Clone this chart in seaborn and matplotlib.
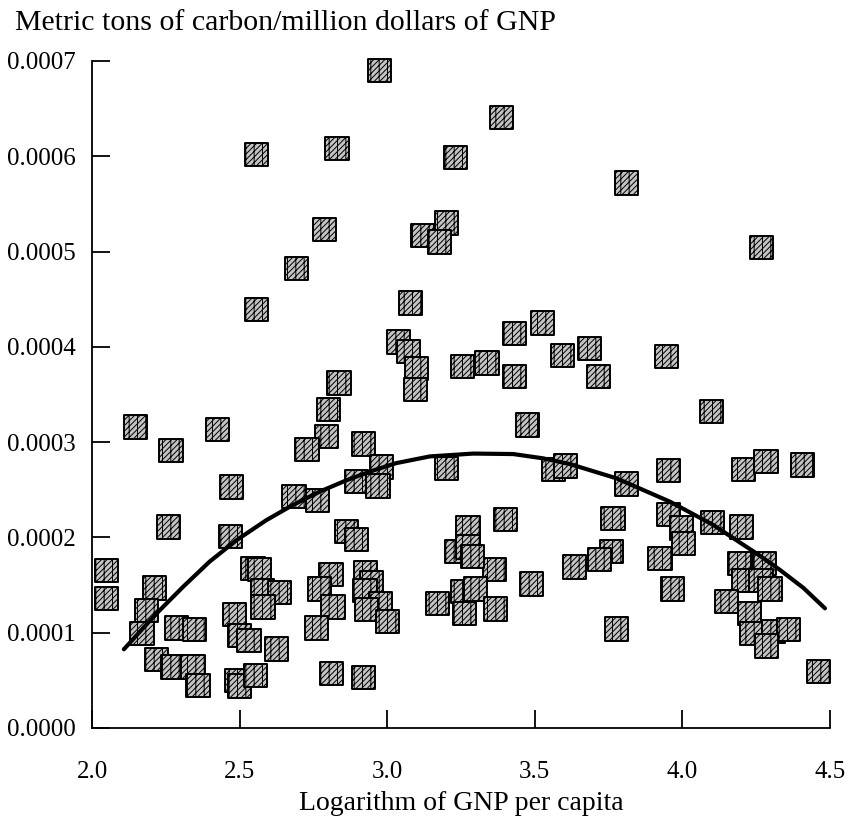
import matplotlib
matplotlib.use("Agg")
import matplotlib.pyplot as plt
import seaborn as sns
import pandas as pd

# ---- data ----
log_gnp_per_capita = [
    2.975, 2.557, 2.830, 3.231, 2.788, 3.200, 3.119, 3.178, 2.694, 2.557,
    3.079, 3.037, 3.071, 3.099, 3.097, 3.254, 3.338, 2.837, 3.387, 3.811,
    4.268, 3.432, 3.526, 3.432, 3.593, 3.686, 3.715, 3.946, 4.099, 3.474,
    3.564, 3.605, 3.811, 3.952, 4.206, 4.283, 4.407, 3.402, 3.765, 3.952,
    3.997, 4.003, 4.101, 4.201, 3.760, 3.720, 3.924, 3.635, 3.364, 3.489,
    3.967, 4.193, 4.277, 4.206, 4.266, 4.297, 4.150, 4.228, 4.235, 4.308,
    4.359, 4.285, 3.776, 4.460, 3.274, 3.235, 3.274, 3.290, 3.257, 3.299,
    3.263, 3.366, 3.170,
    2.147, 2.268, 2.426, 2.800, 2.794, 2.728, 2.921, 2.980, 2.896, 2.969,
    3.200, 2.472, 2.684, 2.765, 2.260, 2.469, 2.862, 2.895, 2.048, 2.048,
    2.212, 2.184, 2.169, 2.218, 2.285, 2.347, 2.272, 2.342, 2.359, 2.545,
    2.567, 2.577, 2.636, 2.579, 2.482, 2.500, 2.532, 2.626, 2.491, 2.500,
    2.553, 2.810, 2.770, 2.816, 2.760, 2.811, 2.927, 2.948, 2.925, 2.978,
    2.929, 3.000, 2.920,
]
carbon_per_gnp = [
    0.000690, 0.000602, 0.000608, 0.000599, 0.000523, 0.000530, 0.000517, 0.000510, 0.000482, 0.000439,
    0.000446, 0.000405, 0.000395, 0.000377, 0.000355, 0.000379, 0.000383, 0.000362, 0.000641, 0.000572,
    0.000504, 0.000414, 0.000425, 0.000369, 0.000391, 0.000398, 0.000369, 0.000390, 0.000332, 0.000318,
    0.000271, 0.000275, 0.000256, 0.000270, 0.000271, 0.000280, 0.000276, 0.000219, 0.000220, 0.000224,
    0.000210, 0.000194, 0.000216, 0.000211, 0.000185, 0.000177, 0.000178, 0.000169, 0.000166, 0.000151,
    0.000146, 0.000173, 0.000173, 0.000155, 0.000155, 0.000146, 0.000133, 0.000120, 0.000099, 0.000101,
    0.000103, 0.000086, 0.000104, 0.000059, 0.000210, 0.000185, 0.000190, 0.000180, 0.000143, 0.000146,
    0.000120, 0.000125, 0.000131,
    0.000316, 0.000291, 0.000313, 0.000334, 0.000306, 0.000292, 0.000298, 0.000274, 0.000259, 0.000254,
    0.000272, 0.000253, 0.000243, 0.000239, 0.000211, 0.000201, 0.000206, 0.000198, 0.000165, 0.000136,
    0.000147, 0.000123, 0.000099, 0.000072, 0.000105, 0.000103, 0.000064, 0.000064, 0.000045, 0.000167,
    0.000166, 0.000144, 0.000142, 0.000127, 0.000119, 0.000097, 0.000092, 0.000083, 0.000050, 0.000044,
    0.000055, 0.000161, 0.000146, 0.000127, 0.000105, 0.000057, 0.000163, 0.000153, 0.000144, 0.000131,
    0.000124, 0.000112, 0.000053,
]
# quadratic trend line
curve_x = [2.108, 2.218, 2.308, 2.398, 2.489, 2.590, 2.680, 2.771, 2.862, 2.950,
           3.031, 3.144, 3.291, 3.427, 3.528, 3.619, 3.777, 3.958, 4.105, 4.252,
           4.330, 4.410, 4.483]
curve_y = [0.0000826, 0.000120, 0.000148, 0.0001745, 0.000197, 0.000218, 0.000234, 0.000248,
           0.000260, 0.000270, 0.000278, 0.000285, 0.000288, 0.0002875, 0.000283, 0.000277,
           0.000262, 0.0002375, 0.000213, 0.000183, 0.000166, 0.000147, 0.0001256]

x_ticks = [2.0, 2.5, 3.0, 3.5, 4.0, 4.5]
x_tick_labels = ["2.0", "2.5", "3.0", "3.5", "4.0", "4.5"]
y_ticks = [0.0, 0.0001, 0.0002, 0.0003, 0.0004, 0.0005, 0.0006, 0.0007]
y_tick_labels = ["0.0000", "0.0001", "0.0002", "0.0003", "0.0004", "0.0005", "0.0006", "0.0007"]

title_text = "Metric tons of carbon/million dollars of GNP"
xlabel_text = "Logarithm of GNP per capita"

# ---- style ----
sns.set_theme(style="white")
plt.rcParams["font.family"] = ["Liberation Serif", "DejaVu Serif"]
plt.rcParams["hatch.linewidth"] = 0.7

fig = plt.figure(figsize=(8.53, 8.35), dpi=100)
ax = fig.add_axes([92 / 853, 1 - 728 / 835, (830 - 92) / 853, (728 - 61) / 835])

df = pd.DataFrame({"x": log_gnp_per_capita, "y": carbon_per_gnp})
sns.scatterplot(data=df, x="x", y="y", marker="s", s=280,
                facecolor="#c4c4c4", edgecolor="black", linewidth=1.4,
                hatch="//////||", ax=ax, clip_on=False, zorder=2)

sns.lineplot(x=curve_x, y=curve_y, sort=False, estimator=None, color="black",
             linewidth=3.0, ax=ax, zorder=3)

ax.set_xlim(2.0, 4.5)
ax.set_ylim(0.0, 0.0007)
ax.set_xticks(x_ticks)
ax.set_xticklabels(x_tick_labels)
ax.set_yticks(y_ticks)
ax.set_yticklabels(y_tick_labels)
ax.set_xlabel("")
ax.set_ylabel("")

sns.despine(ax=ax)
for side in ("left", "bottom"):
    ax.spines[side].set_color("black")
    ax.spines[side].set_linewidth(1.3)

ax.tick_params(axis="both", which="major", bottom=True, left=True, direction="in",
               length=13, width=1.3, color="black", labelsize=18, labelcolor="black")
ax.tick_params(axis="x", pad=24)
ax.tick_params(axis="y", pad=12)

fig.text(15 / 853, 1 - 23 / 835, title_text, fontsize=21.5, ha="left", va="center", color="black")
fig.text(461 / 853, 1 - 803 / 835, xlabel_text, fontsize=20, ha="center", va="center", color="black")

fig.savefig("out.png", dpi=100, facecolor="white")
